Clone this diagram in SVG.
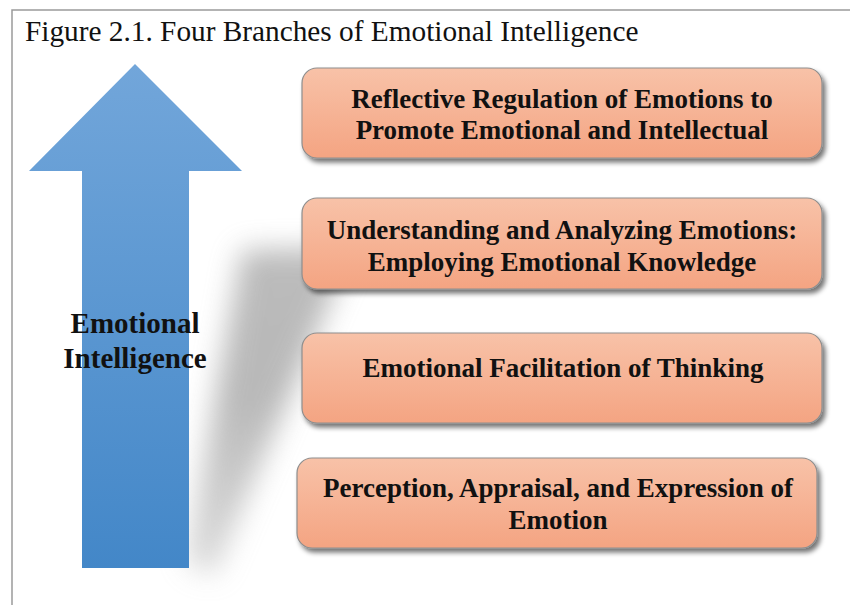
<svg xmlns="http://www.w3.org/2000/svg" width="850" height="605" viewBox="0 0 850 605">
  <defs>
    <linearGradient id="arrowGrad" x1="0" y1="0" x2="0" y2="1">
      <stop offset="0" stop-color="#72a6da"/>
      <stop offset="1" stop-color="#4387c8"/>
    </linearGradient>
    <linearGradient id="boxGrad" x1="0" y1="0" x2="0" y2="1">
      <stop offset="0" stop-color="#f8c2a8"/>
      <stop offset="1" stop-color="#f4a482"/>
    </linearGradient>
    <filter id="boxShadow" x="-10%" y="-20%" width="120%" height="150%">
      <feGaussianBlur in="SourceAlpha" stdDeviation="2.5"/>
      <feOffset dx="3" dy="4" result="b"/>
      <feComponentTransfer><feFuncA type="linear" slope="0.55"/></feComponentTransfer>
      <feMerge><feMergeNode/><feMergeNode in="SourceGraphic"/></feMerge>
    </filter>
    <filter id="castBlur" x="-50%" y="-50%" width="200%" height="200%">
      <feGaussianBlur stdDeviation="14"/>
    </filter>
    <linearGradient id="castGrad" x1="0" y1="1" x2="0" y2="0">
      <stop offset="0" stop-color="#c4c4c4"/>
      <stop offset="0.55" stop-color="#8a8a8a"/>
      <stop offset="1" stop-color="#8f8f8f"/>
    </linearGradient>
  </defs>
  <style>
    .frame { fill: none; stroke: #9a9a9a; stroke-width: 1.5; }
    .title { font-family: "Liberation Serif", "Times New Roman", serif; font-size: 29.3px; fill: #111; }
    .box { fill: url(#boxGrad); stroke: #8e8e8e; stroke-width: 1.2; }
    .label { font-family: "Liberation Serif", "Times New Roman", serif; font-weight: bold; font-size: 27px; fill: #111; text-anchor: middle; }
    .ei { font-family: "Liberation Serif", "Times New Roman", serif; font-weight: bold; font-size: 29px; fill: #111; text-anchor: middle; }
  </style>

  <rect x="0" y="0" width="850" height="605" fill="#ffffff"/>
  <polyline class="frame" points="12,605 12,10 850,10"/>
  <text class="title" x="25" y="41">Figure 2.1. Four Branches of Emotional Intelligence</text>

  <g id="arrow">
    <polygon points="186,562 214,576 352,248 242,250" fill="url(#castGrad)" opacity="0.6" filter="url(#castBlur)"/>
    <polygon points="135,64 242,171 189,171 189,568 82,568 82,171 29,171" fill="url(#arrowGrad)"/>
    <text class="ei" x="135" y="333">Emotional</text>
    <text class="ei" x="135" y="368">Intelligence</text>
  </g>

  <g id="connectors"></g>

  <g id="branch4">
    <rect class="box" x="302" y="68" width="520" height="90" rx="15" ry="15" filter="url(#boxShadow)"/>
    <text class="label" x="562" y="108">Reflective Regulation of Emotions to</text>
    <text class="label" x="562" y="139">Promote Emotional and Intellectual</text>
  </g>

  <g id="branch3">
    <rect class="box" x="302" y="198" width="520" height="91" rx="15" ry="15" filter="url(#boxShadow)"/>
    <text class="label" x="562" y="239">Understanding and Analyzing Emotions:</text>
    <text class="label" x="562" y="271">Employing Emotional Knowledge</text>
  </g>

  <g id="branch2">
    <rect class="box" x="302" y="333" width="520" height="90" rx="15" ry="15" filter="url(#boxShadow)"/>
    <text class="label" x="563" y="377">Emotional Facilitation of Thinking</text>
  </g>

  <g id="branch1">
    <rect class="box" x="297" y="458" width="520" height="90" rx="15" ry="15" filter="url(#boxShadow)"/>
    <text class="label" x="558" y="497">Perception, Appraisal, and Expression of</text>
    <text class="label" x="558" y="529">Emotion</text>
  </g>
</svg>
